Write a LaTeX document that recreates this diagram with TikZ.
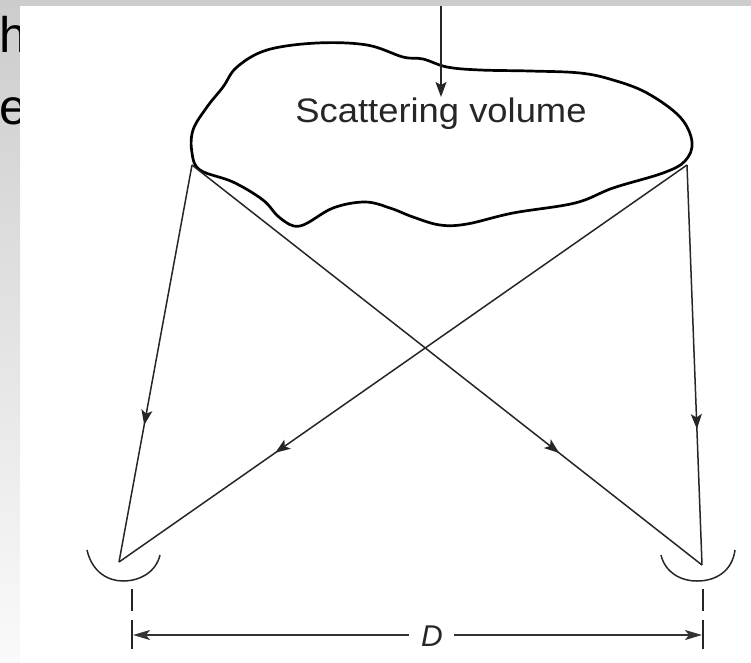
\documentclass[tikz,border=0pt]{standalone}
\usepackage{fontspec}
\setmainfont{Liberation Sans}
\usetikzlibrary{arrows.meta,decorations.markings}
\definecolor{SlideGray}{HTML}{CCCCCC}
\tikzset{
  outline/.style={draw=black, line width=2.7pt},
  wire/.style={draw=black!85, line width=1.5pt},
  dish/.style={draw=black!85, line width=1.5pt},
  tick/.style={draw=black!85, line width=1.6pt},
  midarrow/.style={wire, postaction={decorate}, decoration={markings,
    mark=at position #1 with {\arrow{Stealth[length=15pt,width=11pt,inset=3.5pt]}}}},
  dimwire/.style={draw=black!80, line width=1.8pt, -{Stealth[length=17pt,width=10pt,inset=4pt]}},
  labeltext/.style={font=\fontsize{34}{34}\selectfont, text=black!85, inner sep=0pt, xscale=1.07, anchor=base},
  slidetext/.style={font=\fontsize{50}{50}\selectfont, inner sep=0pt, anchor=base west}
}
\begin{document}
\begin{tikzpicture}[x=1pt,y=-1pt]
  \useasboundingbox (0,0) rectangle (751,662);
  % slide behind the figure
  \shade[top color=SlideGray, bottom color=black!2] (0,0) rectangle (20,662);
  \fill[SlideGray] (0,0) rectangle (751,6);
  \node[slidetext] (slideh) at (-1,52) {h};
  \node[slidetext] (slidee) at (-1,124) {e};
  \fill[white] (20,6) rectangle (60,140);
  % scattering volume
  \draw[outline] plot[smooth cycle, tension=0.6] coordinates {
    (192,153) (193,130) (207,107) (223,87) (237,67) (267,50) (317,43) (367,45)
    (403,57) (423,59) (447,67) (480,70) (530,71) (580,73) (613,80) (647,93)
    (680,117) (692,142) (685,161) (663,173) (613,188) (575,203)
    (513,213) (467,224) (440,225) (413,217) (390,208) (365,202) (333,208)
    (300,226) (280,218) (263,200) (233,182) (200,170)};
  \node[labeltext] (volume) at (441,122) {Scattering volume};
  \coordinate (incident) at (441,6);
  \coordinate (blobL) at (192,165);
  \coordinate (blobR) at (687,165);
  \coordinate (feedL) at (119,562);
  \coordinate (feedR) at (702,565);
  \draw[wire, -{Stealth[length=15pt,width=11pt,inset=3pt]}] (incident) -- (441,97);
  \draw[midarrow=0.655] (blobL) -- (feedL);
  \draw[midarrow=0.725] (blobR) -- (feedL);
  \draw[midarrow=0.72] (blobL) -- (feedR);
  \draw[midarrow=0.66] (blobR) -- (feedR);
  % dishes
  \draw[dish] (87,550) .. controls (92,572) and (108,581) .. (123,581)
    .. controls (140,581) and (156,572) .. (160,555);
  \draw[dish] (661,555) .. controls (665,572) and (680,581) .. (697,581)
    .. controls (715,581) and (732,572) .. (735,550);
  % baseline
  \node[font=\fontsize{30}{30}\selectfont\itshape, text=black!85, inner sep=0pt] (dist) at (432,636) {D};
  \coordinate (baseL) at (133,635);
  \coordinate (baseR) at (702,635);
  \coordinate (gapL) at (409,635);
  \coordinate (gapR) at (454,635);
  \draw[dimwire] (gapL) -- (baseL);
  \draw[dimwire] (gapR) -- (baseR);
  \draw[tick] (132,589) -- (132,611) (132,620) -- (132,649);
  \draw[tick] (703,589) -- (703,611) (703,620) -- (703,649);
\end{tikzpicture}
\end{document}
